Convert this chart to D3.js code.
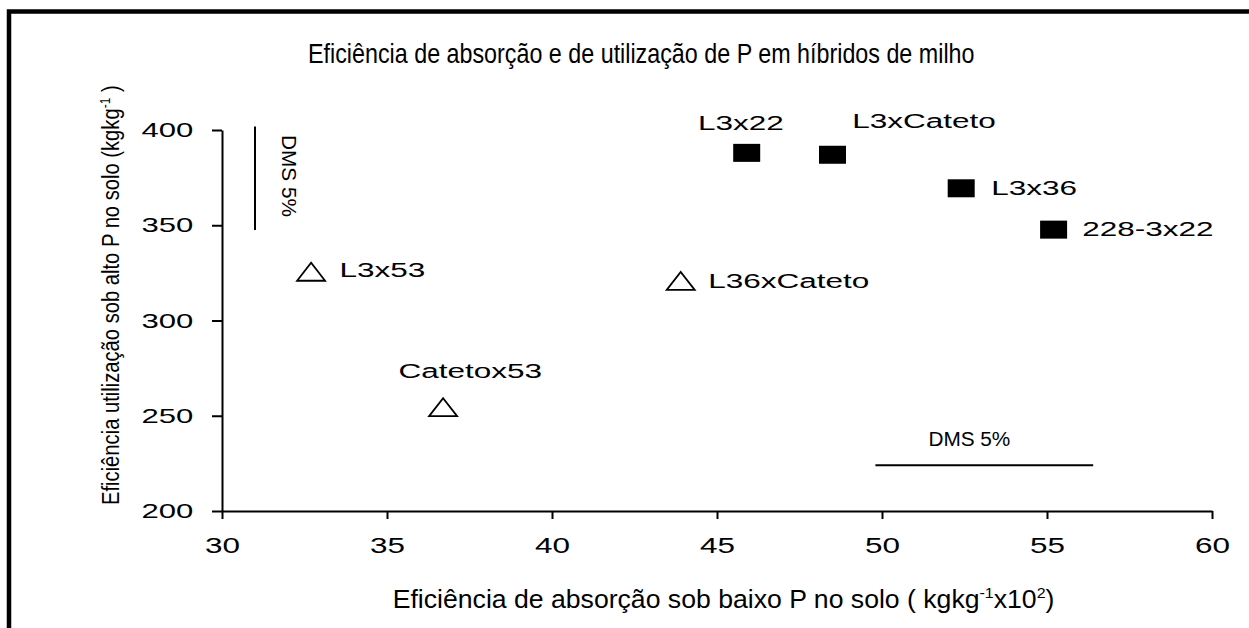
<!DOCTYPE html>
<html>
<head>
<meta charset="utf-8">
<script src="https://cdn.jsdelivr.net/npm/d3@7"></script>
<style>
  html, body { margin: 0; padding: 0; background: #fff; }
  svg { display: block; }
  text { font-family: "Liberation Sans", Arial, Helvetica, sans-serif; fill: #000; }
</style>
</head>
<body>
<svg id="chart" width="1249" height="628"></svg>
<script>
// ---- data ----
const hybrids     = ["L3x22", "L3xCateto", "L3x36", "228-3x22", "L3x53", "L36xCateto", "Catetox53"];
const absorption  = [45.9, 48.5, 52.4, 55.2, 32.7, 43.9, 36.7];   // x, kg kg-1 x10^2
const utilization = [388, 387, 369.4, 347.7, 325.6, 320.8, 254.5]; // y, kg kg-1
const markerType  = ["square", "square", "square", "square", "triangle", "triangle", "triangle"];
const xTicks = [30, 35, 40, 45, 50, 55, 60];
const yTicks = [200, 250, 300, 350, 400];
const dmsVertical   = { x: 31.0, y0: 347.5, y1: 401.8 };
const dmsHorizontal = { y: 224, x0: 49.8, x1: 56.4 };
const titleText = "Eficiência de absorção e de utilização de P em híbridos de milho";

// ---- layout ----
const svg = d3.select("#chart");
const x = d3.scaleLinear().domain([30, 60]).range([222, 1212]);
const y = d3.scaleLinear().domain([200, 400]).range([511, 130]);

// label offsets (px) relative to marker centre
const labelOffset = {
  "L3x22": [-48.7, -23], "L3xCateto": [19.7, -26.7], "L3x36": [30, 6.7],
  "228-3x22": [28.6, 6.3], "L3x53": [28.3, 5.3], "L36xCateto": [27.5, 7.5],
  "Catetox53": [-44.5, -29]
};

function stretchTo(textSel, ax, ay, target) {
  const n = textSel.node();
  const len = n.getComputedTextLength();
  const sx = target / len;
  textSel.attr("x", 0).attr("y", 0)
    .attr("transform", `translate(${ax},${ay}) scale(${sx},1)`);
}
function stretchBy(textSel, ax, ay, sx, extra) {
  textSel.attr("x", 0).attr("y", 0)
    .attr("transform", `translate(${ax},${ay}) ${extra || ""} scale(${sx},1)`);
}

// frame
svg.append("rect")
  .attr("x", 9).attr("y", 11.5).attr("width", 1300).attr("height", 700)
  .attr("fill", "none").attr("stroke", "#000").attr("stroke-width", 4.5);

// title
const title = svg.append("text").attr("font-size", 28.5).text(titleText);
stretchTo(title, 308, 63.3, 667);

// x axis
const gx = svg.append("g").attr("transform", `translate(0,${y(200)})`)
  .call(d3.axisBottom(x).tickValues(xTicks).tickSize(8).tickSizeOuter(0).tickFormat(d3.format("d")));
gx.select(".domain").attr("stroke-width", 2);
gx.selectAll(".tick line").attr("stroke-width", 2);
gx.selectAll(".tick text").each(function () {
  const t = d3.select(this).attr("dy", null).attr("font-size", 22).attr("text-anchor", "middle");
  stretchBy(t, 0, 41.7, 1.43);
});

// y axis
const gy = svg.append("g").attr("transform", `translate(${x(30)},0)`)
  .call(d3.axisLeft(y).tickValues(yTicks).tickSize(10).tickSizeOuter(0).tickFormat(d3.format("d")));
gy.select(".domain").attr("stroke-width", 2);
gy.selectAll(".tick line").attr("stroke-width", 2);
gy.selectAll(".tick text").each(function () {
  const t = d3.select(this).attr("dy", null).attr("font-size", 21).attr("text-anchor", "end");
  stretchBy(t, -28.7, 6.7, 1.48);
});

// x axis title
const xt = svg.append("text").attr("font-size", 25);
xt.append("tspan").text("Eficiência de absorção sob baixo P no solo ( kgkg");
xt.append("tspan").attr("font-size", 15).attr("dy", -10).text("-1");
xt.append("tspan").attr("dy", 10).text("x10");
xt.append("tspan").attr("font-size", 15).attr("dy", -10).text("2");
xt.append("tspan").attr("dy", 10).text(")");
stretchTo(xt, 392.7, 608.3, 662);

// y axis title
const yt = svg.append("text").attr("font-size", 23.5);
yt.append("tspan").text("Eficiência utilização sob alto P no solo (kgkg");
yt.append("tspan").attr("font-size", 14).attr("dy", -9).text("-1");
yt.append("tspan").attr("dy", 9).text(" )");
{
  const len = yt.node().getComputedTextLength();
  const sx = 420 / len;
  yt.attr("x", 0).attr("y", 0)
    .attr("transform", `translate(119,505) rotate(-90) scale(${sx},1)`);
}

// DMS bars
svg.append("line")
  .attr("x1", x(dmsVertical.x)).attr("x2", x(dmsVertical.x))
  .attr("y1", y(dmsVertical.y0)).attr("y2", y(dmsVertical.y1))
  .attr("stroke", "#000").attr("stroke-width", 2);
const dv = svg.append("text").attr("font-size", 21).text("DMS 5%");
{
  const len = dv.node().getComputedTextLength();
  dv.attr("x", 0).attr("y", 0)
    .attr("transform", `translate(${x(dmsVertical.x) + 26.5},${y(dmsVertical.y1) + 8.5}) rotate(90) scale(${82 / len},1)`);
}
svg.append("line")
  .attr("x1", x(dmsHorizontal.x0)).attr("x2", x(dmsHorizontal.x1))
  .attr("y1", y(dmsHorizontal.y)).attr("y2", y(dmsHorizontal.y))
  .attr("stroke", "#000").attr("stroke-width", 2);
const dh = svg.append("text").attr("font-size", 21).text("DMS 5%");
stretchTo(dh, x(dmsHorizontal.x0) + 53, y(dmsHorizontal.y) - 19, 82);

// markers
const pts = hybrids.map((h, i) => ({ h, x: absorption[i], y: utilization[i], t: markerType[i] }));
const triPath = "M-14,9L14,9L0,-9Z";
const gm = svg.append("g");
pts.forEach(p => {
  const cx = x(p.x), cy = y(p.y);
  if (p.t === "square") {
    gm.append("rect").attr("x", cx - 13.5).attr("y", cy - 9).attr("width", 27).attr("height", 18)
      .attr("fill", "#000");
  } else {
    gm.append("path").attr("d", triPath).attr("transform", `translate(${cx},${cy})`)
      .attr("fill", "#fff").attr("stroke", "#000").attr("stroke-width", 1.8);
  }
  const off = labelOffset[p.h];
  const t = gm.append("text").attr("font-size", 21).text(p.h);
  stretchBy(t, cx + off[0], cy + off[1], 1.5);
});
</script>
</body>
</html>
